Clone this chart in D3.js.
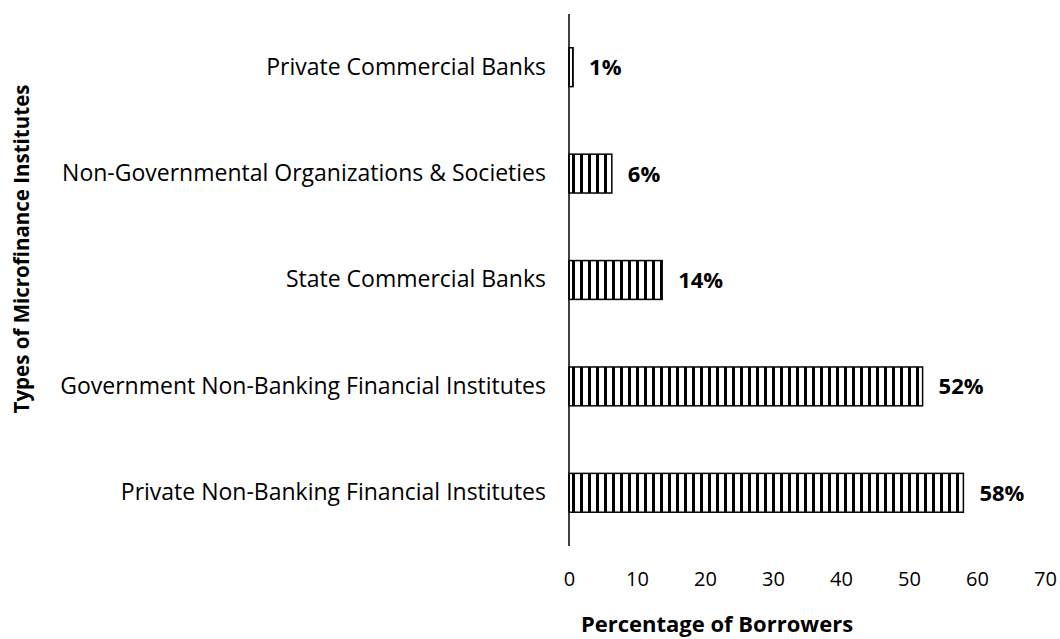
<!DOCTYPE html>
<html>
<head>
<meta charset="utf-8">
<script src="https://cdn.jsdelivr.net/npm/d3@7"></script>
<style>
  html, body { margin: 0; padding: 0; background: #fff; }
  svg { display: block; }
</style>
</head>
<body>
<svg id="chart" width="1060" height="639"></svg>
<script>
const categories = [
  "Private Commercial Banks",
  "Non-Governmental Organizations & Societies",
  "State Commercial Banks",
  "Government Non-Banking Financial Institutes",
  "Private Non-Banking Financial Institutes"
];
const values = [0.6, 6.3, 13.7, 52, 58];
const valueLabels = ["1%", "6%", "14%", "52%", "58%"];
const xTicks = [0, 10, 20, 30, 40, 50, 60, 70];
const xTitle = "Percentage of Borrowers";
const yTitle = "Types of Microfinance Institutes";

const FONT = "'Open Sans', 'Noto Sans', sans-serif";
const svg = d3.select("#chart");

const x0 = 569, x1 = 1045, yTop = 14, yBot = 546;
const x = d3.scaleLinear().domain([0, 70]).range([x0, x1]);
const y = d3.scaleBand().domain(categories).range([yTop, yBot]).paddingInner(0.635).paddingOuter(0.3175);

// pattern
const defs = svg.append("defs");
const pat = defs.append("pattern")
  .attr("id", "vstripe")
  .attr("patternUnits", "userSpaceOnUse")
  .attr("x", x0).attr("y", 0)
  .attr("width", 8).attr("height", 8);
pat.append("rect").attr("width", 8).attr("height", 8).attr("fill", "#fff");
pat.append("rect").attr("x", 3).attr("width", 3).attr("height", 8).attr("fill", "#000");

// bars
svg.append("g").selectAll("rect")
  .data(categories)
  .join("rect")
  .attr("x", x(0))
  .attr("y", d => y(d))
  .attr("width", (d, i) => x(values[i]) - x(0))
  .attr("height", y.bandwidth())
  .attr("fill", "url(#vstripe)")
  .attr("stroke", "#000")
  .attr("stroke-width", 1.5);

// y axis line + category labels
const yAxis = d3.axisLeft(y).tickSize(0).tickPadding(23);
const gy = svg.append("g").attr("transform", `translate(${x0},0)`).call(yAxis);
gy.select(".domain").attr("stroke", "#000").attr("stroke-width", 1.5).attr("d", `M0,${yTop}V${yBot}`);
gy.selectAll("text").attr("font-family", FONT).attr("font-size", 23).attr("fill", "#000");

// x axis (labels only)
const xAxis = d3.axisBottom(x).tickValues(xTicks).tickSize(0).tickPadding(0);
const gx = svg.append("g").attr("transform", `translate(0,572)`).call(xAxis);
gx.select(".domain").remove();
gx.selectAll("text").attr("font-family", FONT).attr("font-size", 20).attr("fill", "#000");

// value labels
svg.append("g").selectAll("text")
  .data(categories)
  .join("text")
  .attr("x", (d, i) => x(values[i]) + 16)
  .attr("y", d => y(d) + y.bandwidth() / 2)
  .attr("dy", "0.36em")
  .attr("font-family", FONT)
  .attr("font-size", 22)
  .attr("font-weight", "bold")
  .attr("fill", "#000")
  .text((d, i) => valueLabels[i]);

// axis titles
svg.append("text")
  .attr("x", 717).attr("y", 632)
  .attr("text-anchor", "middle")
  .attr("font-family", FONT).attr("font-size", 22).attr("font-weight", "bold")
  .text(xTitle);

svg.append("text")
  .attr("transform", "translate(29,249) rotate(-90)")
  .attr("text-anchor", "middle")
  .attr("font-family", FONT).attr("font-size", 20.5).attr("font-weight", "bold")
  .text(yTitle);
</script>
</body>
</html>
